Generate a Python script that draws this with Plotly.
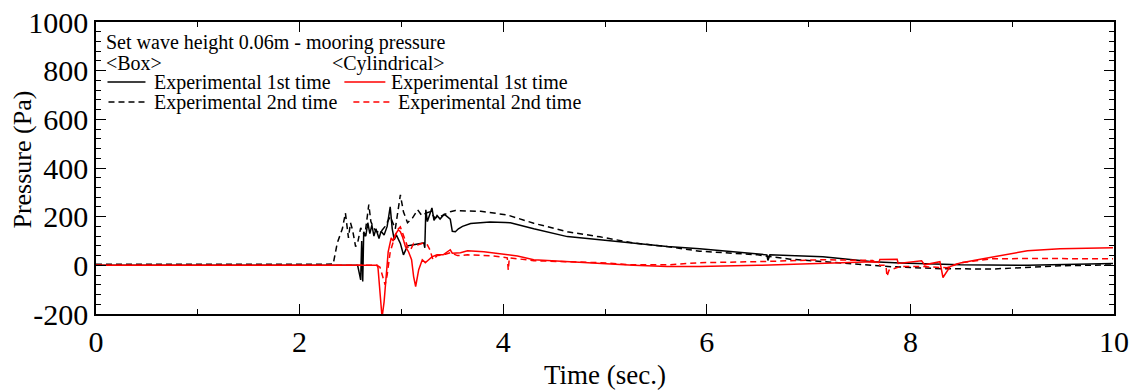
import plotly.graph_objects as go

# ---- Mooring pressure time series (Time in s, Pressure in Pa) ----
t_box_1st = [0.0, 2.5, 2.57, 2.58, 2.60, 2.61, 2.62, 2.63, 2.65, 2.67, 2.69, 2.71, 2.73, 2.75,
             2.78, 2.80, 2.83, 2.86, 2.89, 2.91, 2.93, 2.95, 2.97, 2.99, 3.02, 3.06, 3.12,
             3.19, 3.22, 3.23, 3.24, 3.255, 3.28, 3.30, 3.32, 3.35, 3.38, 3.42, 3.45, 3.48,
             3.50, 3.53, 3.56, 3.60, 3.68, 3.87, 4.02, 4.07, 4.30, 4.63, 4.95, 5.28, 5.61,
             5.93, 6.23, 6.59, 6.60, 6.62, 7.14, 7.63, 7.90, 8.49, 9.15, 9.47, 9.99]
p_box_1st = [0, 0, 0, -20, -60, 100, -66, 138, 120, 175, 130, 165, 120, 150,
             110, 140, 125, 160, 240, 150, 105, 125, 110, 90, 43, 80, 85,
             88, 92, 72, 228, 180, 210, 236, 185, 205, 190, 210, 200, 190,
             140, 138, 150, 160, 172, 178, 176, 175, 150, 118, 105, 92, 77,
             68, 57, 43, 20, 43, 35, 15, 10, 2, 0, 2, 8]

t_box_2nd = [0.0, 2.33, 2.37, 2.42, 2.45, 2.48, 2.50, 2.52, 2.55, 2.57, 2.60, 2.64, 2.68,
             2.70, 2.72, 2.75, 2.79, 2.84, 2.89, 2.94, 2.99, 3.02, 3.06, 3.11, 3.16, 3.20,
             3.245, 3.28, 3.33, 3.38, 3.43, 3.48, 3.53, 3.78, 4.04, 4.30, 4.63, 4.95, 5.28,
             5.61, 5.93, 6.50, 6.82, 7.14, 7.63, 7.83, 8.32, 8.81, 9.47, 9.99]
p_box_2nd = [4, 5, 92, 150, 215, 113, 175, 146, 77, 92, 154, 120, 250,
             180, 160, 140, 134, 160, 200, 150, 290, 220, 175, 195, 228, 205,
             215, 220, 195, 200, 210, 220, 225, 222, 207, 173, 138, 117, 92,
             77, 58, 43, 25, 15, 2, -6, -14, -15, -2, 2]

t_cyl_1st = [0.0, 2.76, 2.77, 2.79, 2.81, 2.83, 2.85, 2.87, 2.90, 2.92, 2.94, 2.97, 2.99,
             3.01, 3.04, 3.07, 3.10, 3.12, 3.14, 3.17, 3.205, 3.235, 3.26, 3.30, 3.35, 3.41,
             3.48, 3.50, 3.58, 3.65, 3.81, 3.97, 4.14, 4.30, 4.63, 4.95, 5.28, 5.61, 5.93,
             6.50, 7.14, 7.63, 7.69, 7.70, 7.87, 7.88, 8.11, 8.14, 8.29, 8.32, 8.39, 8.49,
             8.66, 8.88, 9.15, 9.47, 9.99]
p_cyl_1st = [0, 0, -10, -100, -215, -150, -60, 55, 113, 100, 126, 146, 138,
             118, 77, 56, 23, -46, -87, -18, 23, 11, 20, 35, 43, 43,
             64, 50, 52, 60, 56, 48, 38, 23, 15, 7, 0, -5, -5,
             0, 10, 15, 12, 24, 25, 8, 19, 2, 15, -50, -5, 10,
             23, 39, 60, 68, 72]

t_cyl_2nd = [0.0, 2.76, 2.79, 2.82, 2.84, 2.86, 2.89, 2.92, 2.96, 2.99, 3.02, 3.06, 3.09,
             3.12, 3.16, 3.215, 3.255, 3.28, 3.31, 3.35, 3.41, 3.48, 3.55, 3.65, 3.90, 4.04,
             4.05, 4.06, 4.30, 4.63, 4.95, 5.28, 5.61, 5.93, 6.50, 7.14, 7.63, 7.70, 7.76,
             7.77, 7.79, 7.90, 8.12, 8.36, 8.49, 8.81, 9.15, 9.99]
p_cyl_2nd = [0, 0, -8, -46, -80, -40, 55, 97, 146, 158, 120, 77, 64,
             90, 84, 92, 84, 64, 23, 40, 43, 52, 40, 43, 39, 31,
             -20, 31, 19, 15, 11, 2, 2, 11, 15, 23, 20, 0, 0,
             -46, -20, -5, -5, -10, 11, 27, 28, 27]

x_ticks = [0, 2, 4, 6, 8, 10]
y_ticks = [-200, 0, 200, 400, 600, 800, 1000]

FONT = "Liberation Serif, Times New Roman, serif"

series = [
    (t_box_1st, p_box_1st, "black", "solid"),
    (t_box_2nd, p_box_2nd, "black", "6px,4px"),
    (t_cyl_1st, p_cyl_1st, "#ff0000", "solid"),
    (t_cyl_2nd, p_cyl_2nd, "#ff0000", "6px,4px"),
]

fig = go.Figure()
for t, p, color, dash in series:
    fig.add_trace(go.Scatter(x=t, y=p, mode="lines",
                             line=dict(color=color, width=1.5, dash=dash),
                             showlegend=False))

axis_common = dict(showline=True, linecolor="black", linewidth=1.5, mirror="allticks",
                   ticks="inside", ticklen=10, tickwidth=1.2, tickcolor="black",
                   showgrid=False, zeroline=False, automargin=False,
                   tickfont=dict(family=FONT, size=30, color="black"))

fig.update_xaxes(range=[0, 10], tickvals=x_ticks, ticktext=[str(v) for v in x_ticks],
                 minor=dict(dtick=1, tick0=0, ticks="inside", ticklen=5,
                            tickcolor="black", tickwidth=1.2),
                 title=dict(text="Time (sec.)", font=dict(family=FONT, size=27, color="black")),
                 **axis_common)
fig.update_yaxes(range=[-200, 1000], tickvals=y_ticks, ticktext=[str(v) for v in y_ticks],
                 minor=dict(dtick=40, tick0=0, ticks="inside", ticklen=5,
                            tickcolor="black", tickwidth=1.2),
                 **axis_common)

# ---- Legend block and y-axis title placed in pixel terms ----
W0, W1 = 95.5, 1114.0
H0, H1 = 22.0, 314.0


def px(x):
    return (x - W0) / (W1 - W0)


def py(y):
    return (H1 - y) / (H1 - H0)


fig.add_annotation(text="Pressure (Pa)", xref="paper", yref="paper",
                   x=px(21), y=py(160), xanchor="center", yanchor="middle",
                   textangle=-90, showarrow=False,
                   font=dict(family=FONT, size=26, color="black"))

LEG = dict(family=FONT, size=20, color="black")
texts = [
    ("Set wave height 0.06m - mooring pressure", 104, 43),
    ("<Box>", 104, 63),
    ("<Cylindrical>", 330, 63),
    ("Experimental 1st time", 152, 82),
    ("Experimental 2nd time", 152, 102),
    ("Experimental 1st time", 389, 82),
    ("Experimental 2nd time", 396, 102),
]
for s, x, y in texts:
    fig.add_annotation(text=s.replace("<", "&lt;").replace(">", "&gt;"),
                       xref="paper", yref="paper", x=px(x), y=py(y),
                       xanchor="left", yanchor="middle", showarrow=False, font=LEG)

keys = [
    (107, 145, 82, "black", "solid"),
    (108, 145, 102, "black", "6px,4px"),
    (344, 385, 82, "#ff0000", "solid"),
    (353, 392, 102, "#ff0000", "6px,4px"),
]
for x0, x1, y, color, dash in keys:
    fig.add_shape(type="line", xref="paper", yref="paper",
                  x0=px(x0), x1=px(x1), y0=py(y), y1=py(y),
                  line=dict(color=color, width=1.5, dash=dash))

fig.update_layout(width=1138, height=390,
                  margin=dict(l=95.5, r=24, t=22, b=76),
                  plot_bgcolor="white", paper_bgcolor="white",
                  font=dict(family=FONT, color="black"))

fig.write_html("out.html")
